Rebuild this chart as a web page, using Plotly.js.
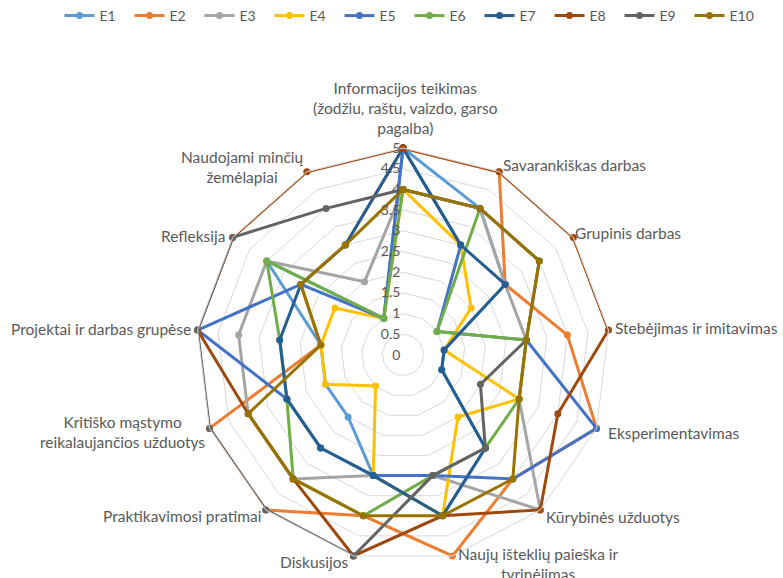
<!DOCTYPE html>
<html>
<head>
<meta charset="utf-8">
<script src="https://cdn.plot.ly/plotly-3.0.1.min.js"></script>
<style>html,body{margin:0;padding:0;background:#fff;}#chart{width:783px;height:578px;}</style>
</head>
<body>
<div id="chart"></div>
<script>
const categories = [
  "Informacijos teikimas<br>(žodžiu, raštu, vaizdo, garso<br>pagalba)",
  "Savarankiškas darbas",
  "Grupinis darbas",
  "Stebėjimas ir imitavimas",
  "Eksperimentavimas",
  "Kūrybinės užduotys",
  "Naujų išteklių paieška ir<br>tyrinėjimas",
  "Diskusijos",
  "Praktikavimosi pratimai",
  "Kritiško mąstymo<br>reikalaujančios užduotys",
  "Projektai ir darbas grupėse",
  "Refleksija",
  "Naudojami minčių<br>žemėlapiai"
];
const seriesNames = ["E1","E2","E3","E4","E5","E6","E7","E8","E9","E10"];
const E1  = [5,4,3,1,1,3,4,3,2,2,2,4,1];
const E2  = [5,5,3,4,5,4,5,4,5,5,2,3,3];
const E3  = [4,4,3,3,3,5,3,3,4,4,4,4,2];
const E4  = [4,3,2,1,3,2,4,3,1,2,2,2,1];
const E5  = [5,3,1,3,5,4,3,3,3,3,5,3,1];
const E6  = [4,4,1,3,3,3,3,4,4,3,3,4,1];
const E7  = [5,3,3,1,1,3,4,3,3,3,3,3,3];
const E8  = [5,5,5,5,4,5,4,5,4,4,5,5,5];
const E9  = [4,4,4,3,2,3,3,5,5,5,5,5,4];
const E10 = [4,4,4,3,3,4,4,4,4,4,2,3,3];
const radialTicks = [0,0.5,1,1.5,2,2.5,3,3.5,4,4.5,5];
const seriesValues = [E1,E2,E3,E4,E5,E6,E7,E8,E9,E10];
const colors = ["#5B9BD5","#ED7D31","#A5A5A5","#FFC000","#4472C4","#70AD47","#255E91","#9E480E","#636363","#997300"];

// category label placement (pixels in the 783x578 canvas) — layout only
const labelPlacement = [
  {x: 405, y: 139, xa: "center", ya: "bottom"},
  {x: 501, y: 165, xa: "left",   ya: "middle"},
  {x: 573, y: 233, xa: "left",   ya: "middle"},
  {x: 613, y: 328, xa: "left",   ya: "middle"},
  {x: 606, y: 433, xa: "left",   ya: "middle"},
  {x: 544, y: 517, xa: "left",   ya: "middle"},
  {x: 456, y: 543, xa: "left",   ya: "top"},
  {x: 351, y: 562, xa: "right",  ya: "middle"},
  {x: 263, y: 516, xa: "right",  ya: "middle"},
  {x: 207, y: 432, xa: "right",  ya: "middle"},
  {x: 193, y: 329, xa: "right",  ya: "middle"},
  {x: 227, y: 236, xa: "right",  ya: "middle"},
  {x: 306, y: 167, xa: "right",  ya: "middle"}
];

const FONT = "Lato, 'Open Sans', sans-serif";
const W = 783, H = 578;
const traces = seriesValues.map((vals, i) => ({
  type: "scatterpolar",
  mode: "lines+markers",
  name: seriesNames[i],
  r: vals.concat([vals[0]]),
  theta: categories.concat([categories[0]]),
  line: {color: colors[i], width: 3},
  marker: {color: colors[i], size: 7, symbol: "circle"},
  cliponaxis: false,
  hoverinfo: "name+r+theta"
}));

const annotations = categories.map((c, i) => ({
  text: c,
  xref: "paper", yref: "paper",
  x: labelPlacement[i].x / W,
  y: 1 - labelPlacement[i].y / H,
  xanchor: labelPlacement[i].xa,
  yanchor: labelPlacement[i].ya,
  align: "center",
  showarrow: false,
  font: {family: FONT, size: 15.5, color: "#595959"}
}));

const layout = {
  width: W, height: H,
  margin: {l: 0, r: 0, t: 0, b: 0, autoexpand: false},
  paper_bgcolor: "#ffffff",
  font: {family: FONT, size: 13, color: "#595959"},
  showlegend: true,
  legend: {
    orientation: "h", x: 0.523, xanchor: "center", y: 1.0, yanchor: "top",
    font: {family: FONT, size: 14, color: "#595959"},
    entrywidth: 25, entrywidthmode: "pixels",
    itemwidth: 30, tracegroupgap: 0
  },
  annotations: annotations,
  polar: {
    domain: {x: [0.2503, 0.7791], y: [0.0277, 0.7439]},
    bgcolor: "rgba(0,0,0,0)",
    gridshape: "linear",
    angularaxis: {
      type: "category",
      rotation: 90,
      direction: "clockwise",
      showgrid: false,
      showline: true,
      linecolor: "#D9D9D9",
      linewidth: 1,
      ticks: "",
      showticklabels: false
    },
    radialaxis: {
      range: [0, 5],
      tickvals: radialTicks,
      ticktext: radialTicks.map(String),
      angle: 90,
      tickangle: 90,
      side: "counterclockwise",
      showline: false,
      ticks: "",
      gridcolor: "#D9D9D9",
      gridwidth: 1,
      tickfont: {family: FONT, size: 14, color: "#595959"}
    }
  }
};

Plotly.newPlot("chart", traces, layout, {displayModeBar: false, staticPlot: true});
</script>
</body>
</html>
